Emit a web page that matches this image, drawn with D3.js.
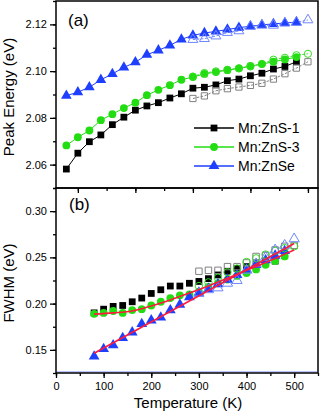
<!DOCTYPE html>
<meta charset="utf-8">
<title>Peak energy and FWHM</title>
<style>
body { margin: 0; background: #fff; }
svg text { font-family: "Liberation Sans", Arial, sans-serif; fill: #000; }
.tick line, .domain { stroke: #000; }
</style>
<svg width="322" height="414"></svg>
<script src="https://d3js.org/d3.v7.min.js"></script>
<script>

// temperatures (K)
var tHeat = [80,100,120,140,160,180,200,220,240,260,280,300,320,340,360,380,400,420,440,460,480];
var tCool = [300,320,340,360,380,400,420,440,460,480,500];

// (a) peak energy (eV)
var pe1Heat = [2.0581,2.0649,2.0698,2.0727,2.0771,2.0803,2.0833,2.0851,2.0865,2.0885,2.0903,2.0927,2.0931,2.0941,2.0959,2.0966,2.0980,2.0991,2.1009,2.1020,2.1040];
var pe1Cool = [2.0883,2.0894,2.0916,2.0925,2.0932,2.0939,2.0948,2.0966,2.0989,2.1013,2.1040];
var pe3Heat = [2.0682,2.0717,2.0746,2.0790,2.0816,2.0842,2.0865,2.0897,2.0920,2.0940,2.0963,2.0975,2.0988,2.0996,2.1004,2.1012,2.1022,2.1030,2.1040,2.1050,2.1060];
var pe3Cool = [2.0977,2.0992,2.0999,2.1006,2.1012,2.1020,2.1031,2.1049,2.1057,2.1068,2.1074];
var peSeHeat = [2.0895,2.0910,2.0931,2.0963,2.0988,2.1016,2.1038,2.1070,2.1089,2.1110,2.1136,2.1153,2.1163,2.1170,2.1178,2.1186,2.1192,2.1198,2.1202,2.1206,2.1210];
var peSeCool = [2.1135,2.1139,2.1150,2.1165,2.1172,2.1191,2.1196,2.1196,2.1205,2.1208,2.1219];

// (b) FWHM (eV)
var fw1Heat = [0.190,0.194,0.197,0.198,0.202,0.206,0.211,0.215,0.219,0.219,0.222,0.224,0.227,0.231,0.235,0.238,0.240,0.243,0.245,0.246,0.252];
var fw1Cool = [0.235,0.236,0.236,0.240,0.240,0.244,0.251,0.252,0.258,0.262,0.263];
var fw3Heat = [0.189,0.190,0.192,0.190,0.193,0.194,0.198,0.202,0.206,0.209,0.210,0.213,0.218,0.222,0.226,0.230,0.233,0.237,0.242,0.246,0.251];
var fw3Cool = [0.219,0.223,0.228,0.234,0.238,0.245,0.249,0.253,0.257,0.260,0.262];
var fwSeHeat = [0.143,0.151,0.155,0.163,0.169,0.178,0.182,0.185,0.193,0.199,0.207,0.212,0.216,0.221,0.226,0.231,0.237,0.242,0.247,0.252,0.257];
var fwSeCool = [0.211,0.215,0.217,0.222,0.225,0.236,0.243,0.250,0.258,0.263,0.270];

// fitted curves
var fitZnST = [80,120,160,200,240,280,320,360,400,440,480,500];
var fitZnS = [0.1886,0.1900,0.1920,0.1975,0.2040,0.2115,0.2190,0.2275,0.2360,0.2445,0.2535,0.2580];
var fitSeT = [80,500];
var fitSe = [0.1464,0.2650];

var seriesNames = ["Mn:ZnS-1","Mn:ZnS-3","Mn:ZnSe"];
var peTicks = [2.06,2.08,2.10,2.12];
var fwTicks = [0.15,0.20,0.25,0.30];
var tTicks = [0,100,200,300,400,500];

var colors = ["#000000","#22dd11","#1f3fff"],
    openColors = ["#808080","#33dd22","#6f86ff"],
    shapes = [d3.symbolSquare, d3.symbolCircle, d3.symbolTriangle],
    sizes = [46, 48, 50];

var svg = d3.select("svg");
var left = 56, right = 318, top1 = 1, mid = 188, bot = 373;

var xa = d3.scaleLinear().domain([62, 517.5]).range([left, right]),
    ya = d3.scaleLinear().domain([2.05, 2.13]).range([mid, top1]),
    xb = d3.scaleLinear().domain([0, 550]).range([left, right]),
    yb = d3.scaleLinear().domain([0.125, 0.325]).range([bot, mid]);

function zip(t, v) { return t.map(function(d, i) { return [d, v[i]]; }); }

function axisStyle(g) {
  g.select(".domain").remove();
  g.selectAll(".tick line").attr("stroke-width", 1.3);
  g.selectAll("text").style("font-size", "11px");
}

// ---- panel (a) axes
svg.append("g").attr("transform", "translate(" + left + ",0)")
  .call(d3.axisLeft(ya).tickValues(d3.range(2.05, 2.1301, 0.01)).tickSize(3).tickFormat(""))
  .call(axisStyle);
svg.append("g").attr("transform", "translate(" + left + ",0)")
  .call(d3.axisLeft(ya).tickValues(peTicks).tickSize(6).tickPadding(3).tickFormat(d3.format(".2f")))
  .call(axisStyle);
svg.append("g").attr("transform", "translate(0," + mid + ")")
  .call(d3.axisBottom(xa).tickValues(d3.range(100, 501, 50)).tickSize(3).tickFormat(""))
  .call(axisStyle);
svg.append("g").attr("transform", "translate(0," + mid + ")")
  .call(d3.axisBottom(xa).tickValues([100,200,300,400,500]).tickSize(5).tickFormat(""))
  .call(axisStyle);

// ---- panel (b) axes
svg.append("g").attr("transform", "translate(" + left + ",0)")
  .call(d3.axisLeft(yb).tickValues(d3.range(0.125, 0.3251, 0.025)).tickSize(3).tickFormat(""))
  .call(axisStyle);
svg.append("g").attr("transform", "translate(" + left + ",0)")
  .call(d3.axisLeft(yb).tickValues(fwTicks).tickSize(6).tickPadding(3).tickFormat(d3.format(".2f")))
  .call(axisStyle);
svg.append("g").attr("transform", "translate(0," + bot + ")")
  .call(d3.axisBottom(xb).tickValues(d3.range(0, 551, 50)).tickSize(3).tickFormat(""))
  .call(axisStyle);
svg.append("g").attr("transform", "translate(0," + bot + ")")
  .call(d3.axisBottom(xb).tickValues(tTicks).tickSize(5).tickPadding(4).tickFormat(d3.format("d")))
  .call(axisStyle);

// faint blue line along the lower axis
svg.append("line").attr("x1", left + 1).attr("x2", right - 1)
  .attr("y1", bot - 1.2).attr("y2", bot - 1.2)
  .attr("stroke", "#9aa8ff").attr("stroke-width", 1);

// ---- panel (a) data
var lineA = d3.line().x(function(d) { return xa(d[0]); }).y(function(d) { return ya(d[1]); });
var heatA = [pe1Heat, pe3Heat, peSeHeat], coolA = [pe1Cool, pe3Cool, peSeCool];

heatA.forEach(function(v, i) {
  var pts = zip(tHeat, v);
  svg.append("path").datum(pts).attr("d", lineA).attr("fill", "none")
    .attr("stroke", colors[i]).attr("stroke-width", 1);
});
coolA.forEach(function(v, i) {
  var pts = zip(tCool, v);
  svg.append("path").datum(pts).attr("d", lineA).attr("fill", "none")
    .attr("stroke", openColors[i]).attr("stroke-width", 1).attr("stroke-dasharray", "2.5,1.5");
});
heatA.forEach(function(v, i) {
  svg.append("g").selectAll("path").data(zip(tHeat, v)).enter().append("path")
    .attr("transform", function(d) { return "translate(" + xa(d[0]) + "," + ya(d[1]) + ")"; })
    .attr("d", d3.symbol().type(shapes[i]).size(sizes[i]))
    .attr("fill", colors[i]);
});
coolA.forEach(function(v, i) {
  svg.append("g").selectAll("path").data(zip(tCool, v)).enter().append("path")
    .attr("transform", function(d) { return "translate(" + xa(d[0]) + "," + ya(d[1]) + ")"; })
    .attr("d", d3.symbol().type(shapes[i]).size(sizes[i] * 0.85))
    .attr("fill", "none").attr("stroke", openColors[i]).attr("stroke-width", 1);
});

// ---- panel (b) data
var heatB = [fw1Heat, fw3Heat, fwSeHeat], coolB = [fw1Cool, fw3Cool, fwSeCool];
heatB.forEach(function(v, i) {
  svg.append("g").selectAll("path").data(zip(tHeat, v)).enter().append("path")
    .attr("transform", function(d) { return "translate(" + xb(d[0]) + "," + yb(d[1]) + ")"; })
    .attr("d", d3.symbol().type(shapes[i]).size(sizes[i]))
    .attr("fill", colors[i]);
});
coolB.forEach(function(v, i) {
  svg.append("g").selectAll("path").data(zip(tCool, v)).enter().append("path")
    .attr("transform", function(d) { return "translate(" + xb(d[0]) + "," + yb(d[1]) + ")"; })
    .attr("d", d3.symbol().type(shapes[i]).size(sizes[i] * 0.9))
    .attr("fill", "none").attr("stroke", openColors[i]).attr("stroke-width", 1);
});

var lineB = d3.line().x(function(d) { return xb(d[0]); }).y(function(d) { return yb(d[1]); })
  .curve(d3.curveMonotoneX);
svg.append("path").datum(zip(fitZnST, fitZnS)).attr("d", lineB).attr("fill", "none")
  .attr("stroke", "#ff1a3c").attr("stroke-width", 1.6);
svg.append("path").datum(zip(fitSeT, fitSe)).attr("d", lineB).attr("fill", "none")
  .attr("stroke", "#ff1a3c").attr("stroke-width", 1.6);

// frames
svg.append("rect").attr("x", left).attr("y", top1).attr("width", right - left).attr("height", mid - top1)
  .attr("fill", "none").attr("stroke", "#000").attr("stroke-width", 1.5);
svg.append("rect").attr("x", left).attr("y", mid).attr("width", right - left).attr("height", bot - mid)
  .attr("fill", "none").attr("stroke", "#000").attr("stroke-width", 1.5);

// legend
seriesNames.forEach(function(name, i) {
  var ly = 128 + i * 19;
  svg.append("line").attr("x1", 194).attr("x2", 234).attr("y1", ly).attr("y2", ly)
    .attr("stroke", colors[i]).attr("stroke-width", 1.3);
  svg.append("path").attr("transform", "translate(214," + ly + ")")
    .attr("d", d3.symbol().type(shapes[i]).size(sizes[i])).attr("fill", colors[i]);
  svg.append("text").attr("x", 238).attr("y", ly + 5).style("font-size", "14px").text(name);
});

// panel letters and titles
svg.append("text").attr("x", 68).attr("y", 26).style("font-size", "17px").text("(a)");
svg.append("text").attr("x", 69).attr("y", 210).style("font-size", "17px").text("(b)");

svg.append("text").attr("transform", "translate(14,97) rotate(-90)")
  .attr("text-anchor", "middle").style("font-size", "15px").text("Peak Energy (eV)");
svg.append("text").attr("transform", "translate(14,283) rotate(-90)")
  .attr("text-anchor", "middle").style("font-size", "15px").text("FWHM (eV)");
svg.append("text").attr("x", 188).attr("y", 408)
  .attr("text-anchor", "middle").style("font-size", "15px").text("Temperature (K)");

</script>
